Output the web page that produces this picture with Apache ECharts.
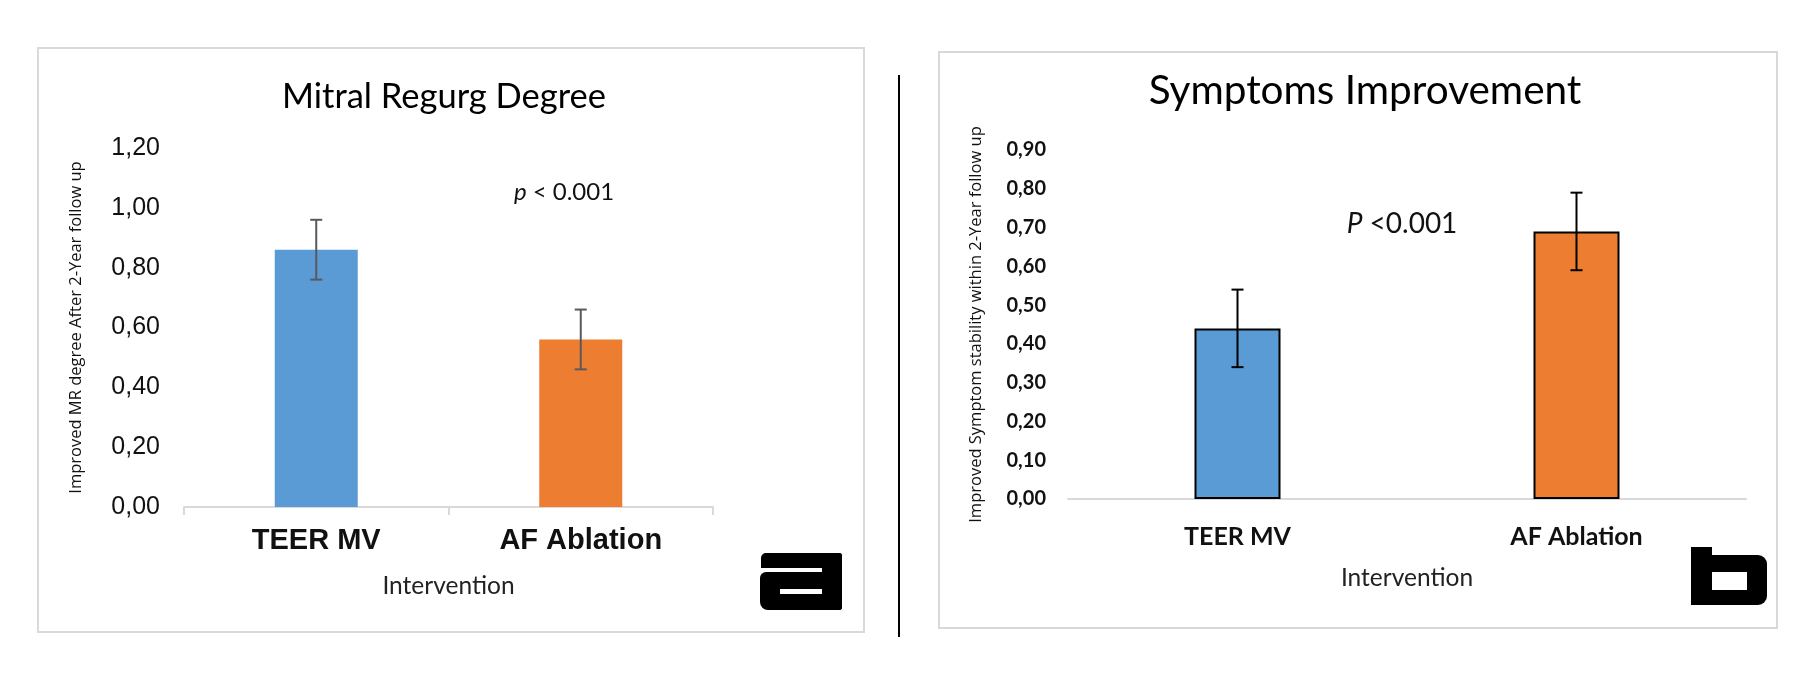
<!DOCTYPE html>
<html>
<head>
    <meta charset="utf-8">
    <title>Mitral Regurg / Symptoms Improvement</title>
    <script src="https://cdn.jsdelivr.net/npm/echarts/dist/echarts.min.js"></script>
    <style>
    html, body { margin: 0; padding: 0; background: #fff; }
    #main { width: 1816px; height: 688px; }
    </style>
</head>
<body>
    <div id="main"></div>
    <script type="text/javascript">
        // data
        var categories = ['TEER MV', 'AF Ablation'];
        var mrValues = [0.86, 0.56];     // panel a
        var mrErrors = [0.10, 0.10];
        var symValues = [0.44, 0.69];    // panel b
        var symErrors = [0.10, 0.10];
        var mrAxis = { min: 0, max: 1.2, interval: 0.2 };
        var symAxis = { min: 0, max: 0.9, interval: 0.1 };

        var blue = '#5B9BD5', orange = '#ED7D31';

        function commaFmt(v) { return v.toFixed(2).replace('.', ','); }

        function errData(vals, errs) {
            return vals.map(function (v, i) { return [i, v - errs[i], v + errs[i]]; });
        }

        // error bar drawn from axis coords
        function errorBar(color) {
            return function (params, api) {
                var x = api.value(0);
                var top = api.coord([x, api.value(2)]);
                var bot = api.coord([x, api.value(1)]);
                var half = 6;
                var st = { stroke: color, lineWidth: 2 };
                return {
                    type: 'group',
                    children: [
                        { type: 'line', shape: { x1: top[0], y1: top[1], x2: bot[0], y2: bot[1] }, style: st },
                        { type: 'line', shape: { x1: top[0] - half, y1: top[1], x2: top[0] + half, y2: top[1] }, style: st },
                        { type: 'line', shape: { x1: bot[0] - half, y1: bot[1], x2: bot[0] + half, y2: bot[1] }, style: st }
                    ]
                };
            };
        }

        var myChart = echarts.init(document.getElementById('main'));
        var option = {
            backgroundColor: '#fff',
            animation: false,
            title: [
                {
                    text: 'Mitral Regurg Degree', left: 439, top: 74, textAlign: 'center',
                    textStyle: { fontFamily: 'Lato', fontWeight: 'normal', fontSize: 34.5, color: '#000' }
                },
                {
                    text: 'Symptoms Improvement', left: 1360, top: 65, textAlign: 'center',
                    textStyle: { fontFamily: 'Lato', fontWeight: 'normal', fontSize: 40.5, color: '#000' }
                }
            ],
            grid: [
                { left: 184, right: 1103, top: 148, bottom: 181 },
                { left: 1068, right: 70, top: 150, bottom: 189 }
            ],
            xAxis: [
                {
                    type: 'category', gridIndex: 0, data: categories,
                    name: 'Intervention', nameLocation: 'middle', nameGap: 67,
                    nameTextStyle: { fontFamily: 'Lato', fontSize: 24.5, color: '#222' },
                    axisLine: { lineStyle: { color: '#d9d9d9', width: 2 } },
                    axisTick: { show: true, length: 8, lineStyle: { color: '#d9d9d9', width: 2 } },
                    axisLabel: { margin: 19, fontFamily: 'Liberation Sans', fontWeight: 'bold', fontSize: 29, color: '#111' }
                },
                {
                    type: 'category', gridIndex: 1, data: categories,
                    name: 'Intervention', nameLocation: 'middle', nameGap: 67,
                    nameTextStyle: { fontFamily: 'Lato', fontSize: 24.5, color: '#222' },
                    axisLine: { lineStyle: { color: '#d9d9d9', width: 2 } },
                    axisTick: { show: false },
                    axisLabel: { margin: 25, fontFamily: 'Lato', fontWeight: 'bold', fontSize: 25, color: '#111' }
                }
            ],
            yAxis: [
                {
                    type: 'value', gridIndex: 0,
                    min: mrAxis.min, max: mrAxis.max, interval: mrAxis.interval,
                    name: 'Improved MR degree After 2-Year follow up', nameLocation: 'middle', nameGap: 99,
                    nameTextStyle: { fontFamily: 'Open Sans', fontSize: 16.5, color: '#111' },
                    axisLine: { show: false }, axisTick: { show: false }, splitLine: { show: false },
                    axisLabel: { margin: 24, formatter: commaFmt, fontFamily: 'Liberation Sans', fontSize: 25, color: '#111' }
                },
                {
                    type: 'value', gridIndex: 1,
                    min: symAxis.min, max: symAxis.max, interval: symAxis.interval,
                    name: 'Improved Symptom stability within 2-Year follow up', nameLocation: 'middle', nameGap: 83,
                    nameTextStyle: { fontFamily: 'Open Sans', fontSize: 16.5, color: '#111' },
                    axisLine: { show: false }, axisTick: { show: false }, splitLine: { show: false },
                    axisLabel: { margin: 22, formatter: commaFmt, fontFamily: 'Lato', fontWeight: 'bold', fontSize: 20, color: '#111' }
                }
            ],
            series: [
                {
                    name: 'MR degree', type: 'bar', xAxisIndex: 0, yAxisIndex: 0, barWidth: 83,
                    data: mrValues.map(function (v, i) {
                        return { value: v, itemStyle: { color: i === 0 ? blue : orange } };
                    })
                },
                {
                    name: 'MR error', type: 'custom', xAxisIndex: 0, yAxisIndex: 0, z: 5,
                    renderItem: errorBar('#595959'), data: errData(mrValues, mrErrors)
                },
                {
                    name: 'Symptom stability', type: 'bar', xAxisIndex: 1, yAxisIndex: 1, barWidth: 86,
                    data: symValues.map(function (v, i) {
                        return { value: v, itemStyle: { color: i === 0 ? blue : orange, borderColor: '#000', borderWidth: 2 } };
                    })
                },
                {
                    name: 'Symptom error', type: 'custom', xAxisIndex: 1, yAxisIndex: 1, z: 5,
                    renderItem: errorBar('#000'), data: errData(symValues, symErrors)
                }
            ],
            graphic: [
                // panel frames and divider
                { type: 'rect', shape: { x: 38, y: 48, width: 826, height: 584 }, style: { fill: 'none', stroke: '#d9d9d9', lineWidth: 2 }, z: -1 },
                { type: 'rect', shape: { x: 939, y: 52, width: 838, height: 576 }, style: { fill: 'none', stroke: '#d9d9d9', lineWidth: 2 }, z: -1 },
                { type: 'line', shape: { x1: 899, y1: 75, x2: 899, y2: 637 }, style: { stroke: '#000', lineWidth: 2 } },
                // p values
                {
                    type: 'text', x: 564, y: 192,
                    style: {
                        text: '{i|p} < 0.001', align: 'center', verticalAlign: 'middle',
                        font: '24px Lato', fill: '#111',
                        rich: { i: { fontStyle: 'italic', fontSize: 24, fontFamily: 'Lato' } }
                    }
                },
                {
                    type: 'text', x: 1402, y: 224,
                    style: {
                        text: '{i|P} <0.001', align: 'center', verticalAlign: 'middle',
                        font: '28px Lato', fill: '#111',
                        rich: { i: { fontStyle: 'italic', fontSize: 28, fontFamily: 'Lato' } }
                    }
                },
                // panel letter "a"
                { type: 'rect', shape: { x: 761, y: 553, width: 81, height: 15, r: [5, 3, 0, 0] }, style: { fill: '#000' } },
                { type: 'rect', shape: { x: 822, y: 553, width: 20, height: 57, r: [0, 3, 3, 0] }, style: { fill: '#000' } },
                { type: 'rect', shape: { x: 760, y: 572, width: 82, height: 38, r: [6, 0, 3, 8] }, style: { fill: '#000' } },
                { type: 'rect', shape: { x: 780, y: 589, width: 42, height: 5 }, style: { fill: '#fff' } },
                // panel letter "b"
                { type: 'rect', shape: { x: 1691, y: 547, width: 21, height: 14 }, style: { fill: '#000' } },
                { type: 'rect', shape: { x: 1691, y: 555, width: 76, height: 50, r: [0, 9, 9, 0] }, style: { fill: '#000' } },
                { type: 'rect', shape: { x: 1712, y: 572, width: 35, height: 18 }, style: { fill: '#fff' } }
            ]
        };
        myChart.setOption(option);
    </script>
</body>
</html>
